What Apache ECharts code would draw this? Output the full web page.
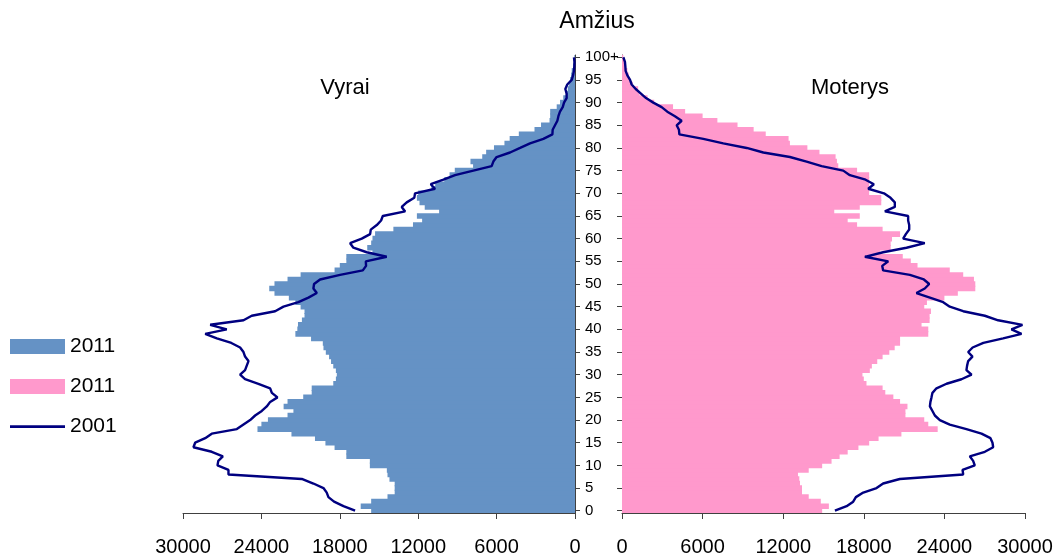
<!DOCTYPE html>
<html>
<head>
<meta charset="utf-8">
<script src="https://cdn.jsdelivr.net/npm/echarts@6/dist/echarts.min.js"></script>
<style>
html,body{margin:0;padding:0;background:#fff;}
#chart{width:1058px;height:557px;}
</style>
</head>
<body>
<div id="chart"></div>
<script>
// Age categories 0..99, 100+
const ages = [];
for (let i = 0; i < 100; i++) ages.push(String(i));
ages.push('100+');

// Males 2011 (bars), ages 0..100+
const male2011 = [15600,16400,15600,14350,13800,13800,13800,14200,14350,14400,
  15700,15700,17500,17500,18400,19100,19900,21700,24300,24000,
  23500,22000,21550,22300,22000,20800,20150,20150,18500,18300,
  18230,18300,18500,18670,18820,19070,19250,19300,20200,21400,
  21250,21200,20900,20700,20700,21000,21400,21900,23000,23400,
  23000,22000,21000,18400,18000,17500,17500,15500,15900,15600,
  15500,15300,13900,12400,11700,12100,10400,11500,11900,12100,
  12000,11000,10700,10000,9600,9200,7800,8000,7100,6800,
  6200,5400,5000,4300,3100,2600,1950,1900,1900,1400,
  1150,900,700,550,450,380,300,250,150,100,
  50];

// Females 2011 (bars)
const female2011 = [14900,15400,14800,13900,13400,13400,13250,13200,13100,13900,
  14900,15600,16200,16800,17600,18400,19100,20800,23500,22800,
  22500,21100,21100,21250,20700,20200,19600,19400,18200,18000,
  17900,18450,18600,19000,19400,19900,20300,20700,20700,22800,
  22800,22300,22900,22900,23000,22500,22700,24000,25000,26300,
  26300,26200,25400,24400,22000,21500,20900,19200,20000,20000,
  20100,20700,19400,17500,16800,17700,15800,17700,19300,19300,
  18400,18400,18400,18400,18400,17500,16100,16000,15900,14700,
  13800,12500,12400,10700,9800,8600,7100,6000,4700,3800,
  2400,1900,1300,1200,800,600,500,400,300,200,
  100];

// Males 2001 (line)
const male2001 = [16830,17720,18440,18870,19000,19250,20020,20910,26520,26520,
  27360,27300,26950,27800,29200,29070,28300,27800,25880,25370,
  24860,24480,23970,23590,23330,22770,23200,23330,24230,25250,
  25630,25250,25120,24990,25250,25370,25630,26300,27410,28300,
  26650,27920,25370,24740,22950,22310,21170,20400,19760,20020,
  19970,19510,17980,16240,15990,16010,14410,15940,16960,17210,
  16320,15680,15630,15170,14840,14710,13000,13260,12880,12300,
  12240,10710,11040,10070,9180,7780,6380,6250,6000,4970,
  4200,3440,2420,1730,1710,1530,1350,1270,1150,940,
  840,640,640,740,590,250,150,80,50,40,
  80];

// Females 2001 (line)
const female2001 = [15850,16720,17210,17410,17960,18950,19440,20680,25400,25350,
  26260,26140,25890,27010,27630,27580,27430,26760,25640,24400,
  23660,23290,23110,22920,22960,23040,23110,23410,24160,25270,
  26020,25640,25690,25770,26090,25770,26100,26900,28370,29740,
  28990,29810,28000,27010,25400,24400,23910,22920,21920,22540,
  22870,22470,21430,19440,19370,19820,18080,19440,21180,22540,
  20930,21130,21380,21380,21300,21300,19570,20310,20310,19990,
  19500,18330,18750,18130,16960,16470,14860,13740,12500,10520,
  9280,7540,6050,4270,4240,4070,4440,3940,3370,2950,
  2330,1790,1410,1020,720,600,400,270,250,220,
  100];

const xTicks = { min: 0, max: 30000, interval: 6000 };
const titleText = 'Amžius';
const leftLabel = 'Vyrai';
const rightLabel = 'Moterys';

const FONT = '"Liberation Sans", Arial, sans-serif';
const AXIS_COLOR = '#404040';
const BLUE = '#6592C5';
const PINK = '#FF99CC';
const NAVY = '#000080';

const chart = echarts.init(document.getElementById('chart'), null, { renderer: 'canvas' });

function xAxisCfg(gridIndex, inverse) {
  return {
    type: 'value', gridIndex: gridIndex, inverse: inverse,
    min: xTicks.min, max: xTicks.max, interval: xTicks.interval,
    position: 'bottom',
    axisLine: { show: true, lineStyle: { color: AXIS_COLOR, width: 1 } },
    axisTick: { show: true, length: 6, lineStyle: { color: AXIS_COLOR } },
    axisLabel: { show: true, margin: 24, fontSize: 20, color: '#000', fontFamily: FONT,
      formatter: function (v) { return String(v); } },
    splitLine: { show: false }
  };
}
function yAxisCfg(gridIndex, position, showLabel) {
  return {
    type: 'category', gridIndex: gridIndex, data: ages, position: position,
    boundaryGap: true,
    axisLine: { show: true, lineStyle: { color: AXIS_COLOR, width: 1 } },
    axisTick: { show: true, interval: 4, alignWithLabel: true, length: 5, lineStyle: { color: AXIS_COLOR } },
    axisLabel: { show: showLabel, interval: 4, margin: 10, fontSize: 15, color: '#000', fontFamily: FONT },
    splitLine: { show: false }
  };
}

const option = {
  animation: false,
  backgroundColor: '#fff',
  textStyle: { fontFamily: FONT },
  grid: [
    { left: 183, right: 1058 - 575, top: 55, bottom: 44, containLabel: false },
    { left: 622, right: 1058 - 1025, top: 55, bottom: 44, containLabel: false }
  ],
  xAxis: [xAxisCfg(0, true), xAxisCfg(1, false)],
  yAxis: [yAxisCfg(0, 'right', true), yAxisCfg(1, 'left', false)],
  legend: {
    orient: 'vertical', left: 5, top: 331,
    itemWidth: 55, itemHeight: 15, itemGap: 19, itemTextGap: 5,
    textStyle: { fontSize: 21, color: '#000', fontFamily: FONT },
    data: [
      { name: 'm2011', icon: 'rect' },
      { name: 'f2011', icon: 'rect' },
      { name: '2001', icon: 'path://M0,0 H80 V4 H0 Z' }
    ],
    formatter: function (n) { return n === '2001' ? '2001' : '2011'; },
    selectedMode: false
  },
  graphic: [
    { type: 'text', style: { text: titleText, x: 597, y: 22, fontSize: 23, fill: '#000', fontFamily: FONT, textAlign: 'center', textVerticalAlign: 'middle' } },
    { type: 'text', style: { text: leftLabel, x: 345, y: 88, fontSize: 22, fill: '#000', fontFamily: FONT, textAlign: 'center', textVerticalAlign: 'middle' } },
    { type: 'text', style: { text: rightLabel, x: 850, y: 88, fontSize: 22, fill: '#000', fontFamily: FONT, textAlign: 'center', textVerticalAlign: 'middle' } }
  ],
  series: [
    { name: 'm2011', type: 'bar', xAxisIndex: 0, yAxisIndex: 0, data: male2011,
      barWidth: 5.6, barGap: '0%',
      itemStyle: { color: BLUE }, z: 2 },
    { name: 'f2011', type: 'bar', xAxisIndex: 1, yAxisIndex: 1, data: female2011,
      barWidth: 5.6, barGap: '0%',
      itemStyle: { color: PINK }, z: 2 },
    { name: '2001', type: 'line', xAxisIndex: 0, yAxisIndex: 0, data: male2001,
      symbol: 'none', lineStyle: { color: NAVY, width: 2.4 }, itemStyle: { color: NAVY }, z: 3 },
    { name: '2001', type: 'line', xAxisIndex: 1, yAxisIndex: 1, data: female2001,
      symbol: 'none', lineStyle: { color: NAVY, width: 2.4 }, itemStyle: { color: NAVY }, z: 3 }
  ]
};
chart.setOption(option);
</script>
</body>
</html>
